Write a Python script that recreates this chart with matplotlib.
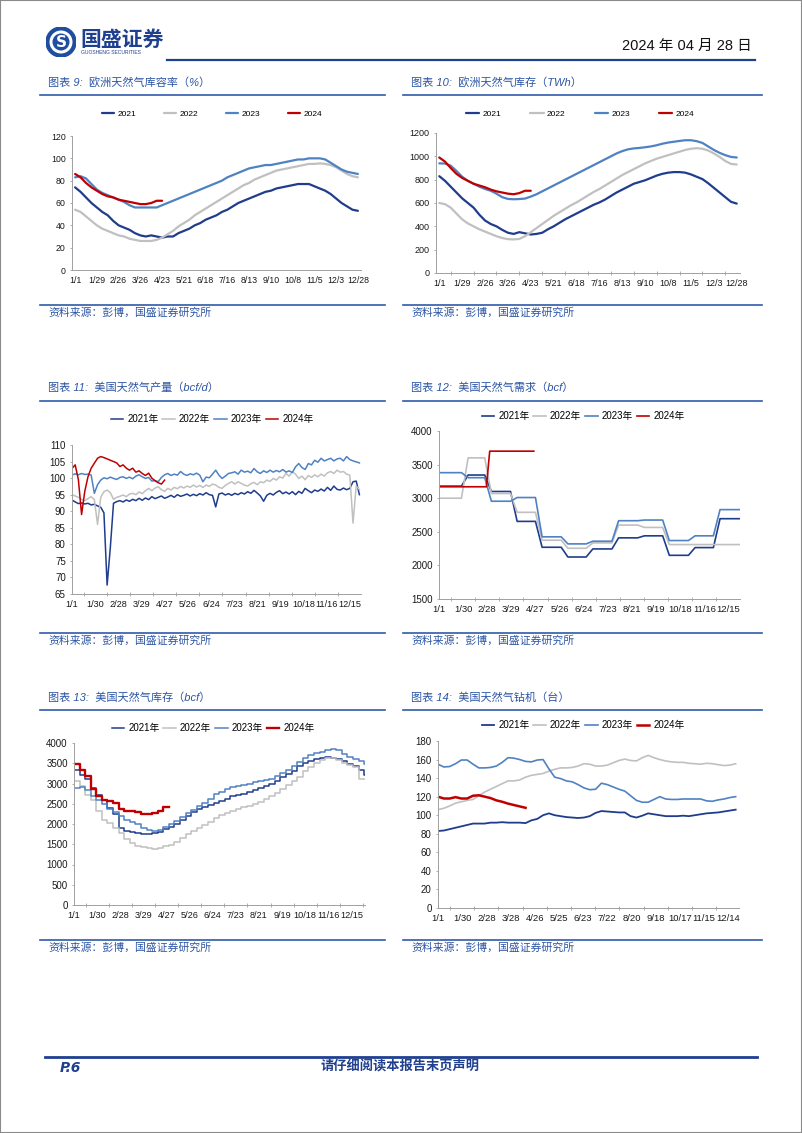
import matplotlib.pyplot as plt
import numpy as np
from matplotlib.patches import Circle, Rectangle
from matplotlib.lines import Line2D

plt.rcParams['font.family'] = ['Liberation Sans', 'Noto Sans CJK SC', 'DejaVu Sans']

W, H = 802, 1133
NAVY = '#1f3d8c'
GRAY = '#c0c0c0'
BLUE = '#4f82c2'
RED = '#c00000'
RULE = '#1f3f8f'
TITLE_C = '#2c55a5'
YEARS = ['2021', '2022', '2023', '2024']
COLORS = [NAVY, GRAY, BLUE, RED]

# ---- chart 9: EU storage fill rate (%), weekly from 1/1
eu_pct_2021 = [74, 70, 65, 60, 56, 52, 49, 44, 40, 38, 36, 33, 31, 30, 31, 30, 29, 30, 30, 33,
               35, 37, 40, 42, 45, 47, 49, 52, 54, 57, 60, 62, 64, 66, 68, 70, 71, 73, 74, 75,
               76, 77, 77, 77, 75, 73, 71, 68, 64, 60, 57, 54, 53]
eu_pct_2022 = [54, 52, 48, 44, 40, 37, 35, 33, 31, 30, 28, 27, 26, 26, 26, 27, 29, 32, 35, 39,
               42, 45, 49, 52, 55, 58, 61, 64, 67, 70, 73, 76, 78, 81, 83, 85, 87, 89, 90, 91,
               92, 93, 94, 95, 95, 95.5, 95, 94, 92, 89, 86, 84, 83]
eu_pct_2023 = [83, 84, 82, 77, 72, 69, 67, 65, 63, 61, 58, 56, 56, 56, 56, 56, 58, 60, 62, 64,
               66, 68, 70, 72, 74, 76, 78, 80, 83, 85, 87, 89, 91, 92, 93, 94, 94, 95, 96, 97,
               98, 99, 99, 100, 100, 100, 99, 96, 93, 90, 88, 87, 86]
eu_pct_2024 = [86, 83, 78, 74, 71, 68, 66, 65, 63, 62, 61, 60, 59, 59, 60, 62, 62]

# ---- chart 10: EU storage (TWh), weekly from 1/1
eu_twh_2021 = [830, 790, 740, 690, 640, 600, 560, 500, 450, 420, 400, 370, 345, 335, 350, 340, 330, 335, 345, 375,
               400, 430, 460, 485, 510, 535, 560, 585, 605, 630, 660, 690, 715, 740, 765, 780, 795, 815, 835, 850,
               860, 865, 865, 860, 845, 825, 805, 770, 730, 690, 650, 610, 595]
eu_twh_2022 = [600, 590, 560, 510, 460, 425, 400, 375, 355, 335, 315, 300, 290, 288, 292, 315, 350, 385, 420, 455,
               490, 520, 550, 580, 605, 635, 665, 695, 720, 750, 780, 810, 840, 865, 890, 915, 940, 960, 980, 995,
               1010, 1025, 1040, 1055, 1065, 1070, 1065, 1050, 1025, 995, 960, 935, 930]
eu_twh_2023 = [940, 938, 920, 875, 825, 790, 765, 740, 720, 705, 680, 650, 635, 632, 634, 638, 655, 675, 700, 725,
               750, 775, 800, 825, 850, 875, 900, 925, 950, 975, 1000, 1025, 1045, 1060, 1068, 1072, 1078, 1085, 1095, 1108,
               1118, 1125, 1132, 1138, 1138, 1130, 1115, 1085, 1055, 1030, 1010, 995, 990]
eu_twh_2024 = [990, 955, 900, 850, 815, 790, 765, 750, 735, 715, 700, 690, 680, 675, 685, 705, 705]
eu_tick_labels = ['1/1', '1/29', '2/26', '3/26', '4/23', '5/21', '6/18', '7/16', '8/13', '9/10',
                  '10/8', '11/5', '12/3', '12/28']

# ---- chart 11: US dry gas production (bcf/d), every 4 days from 1/1
us_prod_2021 = [93.4, 92.8, 92.3, 92.5, 92.2, 92.4, 91.9, 92.1, 91.6, 91.2,
                89.5, 67.7, 79.0, 92.4, 92.9, 93.2, 92.8, 93.4, 93.0, 93.6,
                93.2, 93.9, 93.3, 94.0, 93.5, 94.4, 93.8, 94.2, 94.6, 93.9,
                94.3, 94.8, 94.2, 95.0, 94.5, 94.8, 95.2, 94.6, 95.1, 94.7,
                95.3, 94.9, 95.6, 95.0, 94.8, 91.3, 95.2, 95.5, 94.9, 95.3,
                94.8, 95.4, 95.0, 95.6, 95.2, 95.9, 95.4, 96.3, 95.5, 94.6,
                93.0, 94.8, 95.4, 94.9, 95.7, 96.2, 95.3, 95.8, 95.2, 95.9,
                95.0, 96.0, 95.4, 96.9, 96.2, 95.6, 96.4, 96.0, 96.7, 96.1,
                97.2, 96.3, 97.6, 96.6, 96.4, 97.0, 96.5, 96.9, 98.9, 99.1,
                95.0]
us_prod_2022 = [95.0, 94.6, 94.2, 93.6, 93.2, 93.8, 94.4, 93.5, 86.0, 94.2,
                95.9, 96.4, 95.6, 93.6, 94.2, 94.5, 94.9, 94.4, 95.2, 95.4,
                95.0, 95.8, 95.3, 96.2, 96.9, 96.2, 97.0, 97.4, 96.5, 96.0,
                96.9, 96.4, 97.2, 96.8, 97.5, 97.0, 97.6, 97.2, 97.9, 97.3,
                97.8, 97.2, 97.9, 97.5, 98.2, 97.9, 97.2, 96.9, 97.8, 98.4,
                98.9, 98.2, 98.9, 98.4, 97.9, 97.6, 98.3, 98.7, 98.0, 98.9,
                98.6, 99.4, 99.0, 99.9, 99.4, 100.4, 100.0, 101.4, 100.6, 101.9,
                101.2, 99.9, 100.6, 99.5, 100.8, 100.2, 101.0, 100.4, 101.2, 100.6,
                101.6, 102.0, 101.4, 102.4, 101.8, 102.0, 101.2, 100.9, 86.4, 97.6,
                96.5]
us_prod_2023 = [100.9, 101.3, 101.0, 101.4, 101.1, 101.2, 100.9, 95.4, 98.0, 99.4,
                100.1, 99.8, 100.3, 99.9, 99.6, 100.2, 100.4, 99.9, 100.3, 99.8,
                100.6, 101.0, 100.4, 99.9, 100.2, 99.1, 99.3, 98.9, 100.2, 101.0,
                101.4, 100.8, 101.2, 100.9, 102.0, 101.2, 100.8, 101.3, 101.0, 101.5,
                100.9, 98.9, 100.3, 100.1, 101.2, 102.4, 100.9, 99.9, 100.6, 101.4,
                101.6, 101.9, 101.2, 102.4, 101.8, 102.1, 101.6, 102.9, 101.9, 101.4,
                102.2, 101.7, 102.4, 101.8, 102.3, 101.9, 102.6, 101.8, 102.2, 101.7,
                103.4, 104.4, 103.2, 102.6, 104.4, 104.0, 105.4, 104.8, 106.0, 105.2,
                105.6, 106.0, 105.2, 105.8, 106.0, 105.2, 106.5, 105.6, 105.2, 104.9,
                104.6]
us_prod_2024 = [102.9, 104.0, 99.5, 89.0, 96.0, 100.4, 103.0, 104.5, 106.0, 106.5,
                106.2, 105.8, 105.4, 105.0, 104.6, 103.5, 104.0, 103.0, 102.4, 103.0,
                101.8, 102.2, 101.4, 100.8, 101.5, 100.0, 99.2, 98.6, 98.2, 99.4]
us_tick_labels = ['1/1', '1/30', '2/28', '3/29', '4/27', '5/26', '6/24', '7/23', '8/21', '9/19',
                  '10/18', '11/16', '12/15']

# ---- chart 12: US demand (bcf), monthly
month_start = [0, 31, 59, 90, 120, 151, 181, 212, 243, 273, 304, 334]
us_dem_2021 = [3180, 3345, 3100, 2655, 2270, 2125, 2245, 2410, 2440, 2150, 2265, 2695]
us_dem_2022 = [3000, 3600, 3070, 2790, 2375, 2255, 2335, 2600, 2565, 2310, 2310, 2310]
us_dem_2023 = [3380, 3305, 2955, 3010, 2425, 2320, 2360, 2665, 2675, 2370, 2440, 2830]
us_dem_2024 = [3170, 3170, 3700, 3700]
us_dem_2024_end = 114

# ---- chart 13: US storage (bcf), weekly from 1/1
us_sto_2021 = [3330, 3200, 3100, 2900, 2720, 2600, 2400, 2250, 1900, 1830, 1800, 1780, 1760, 1750, 1770, 1800,
               1880, 1930, 2000, 2100, 2200, 2290, 2380, 2420, 2480, 2520, 2560, 2620, 2680, 2720, 2750, 2790,
               2840, 2880, 2930, 3000, 3070, 3150, 3230, 3320, 3420, 3500, 3560, 3610, 3630, 3650, 3640, 3600,
               3550, 3470, 3420, 3340, 3200]
us_sto_2022 = [3050, 2950, 2720, 2600, 2330, 2110, 2020, 1910, 1780, 1640, 1520, 1450, 1420, 1400, 1380, 1400,
               1450, 1490, 1550, 1650, 1750, 1830, 1890, 1970, 2050, 2150, 2210, 2270, 2330, 2380, 2410, 2440,
               2490, 2550, 2610, 2680, 2760, 2870, 2970, 3060, 3170, 3300, 3400, 3500, 3580, 3630, 3620, 3570,
               3500, 3450, 3400, 3100, 3100]
us_sto_2023 = [2900, 2910, 2850, 2700, 2600, 2500, 2380, 2300, 2200, 2100, 2050, 1990, 1900, 1850, 1830, 1860,
               1930, 2000, 2070, 2170, 2260, 2340, 2440, 2530, 2610, 2730, 2800, 2870, 2920, 2950, 2970, 3000,
               3030, 3060, 3090, 3120, 3180, 3250, 3330, 3420, 3520, 3620, 3700, 3760, 3780, 3830, 3840, 3830,
               3720, 3650, 3610, 3550, 3480]
us_sto_2024 = [3470, 3340, 3180, 2860, 2700, 2590, 2560, 2530, 2380, 2330, 2330, 2300, 2250, 2250, 2280, 2330, 2420]

# ---- chart 14: US gas rigs, weekly from 1/1
rig_2021 = [83, 83.5, 85, 86.5, 88, 89.5, 91, 91, 91, 92, 92, 92.5, 92, 92, 92, 91.5, 94.5, 96, 100, 102,
            100, 99, 98, 97.5, 97, 97.5, 99, 102.5, 104.5, 104, 103.5, 103, 103, 99, 97.5, 99.5, 102, 101, 100, 99,
            99, 99, 99.5, 99, 100, 101, 102, 102.5, 103, 104, 105, 106]
rig_2022 = [106, 107.5, 110, 113, 114.5, 116, 117, 121, 125, 128, 131, 134, 137, 137, 138, 141, 143, 144, 145, 147.5,
            149.5, 151, 151, 151.5, 153, 155.5, 155, 153, 153, 154, 156.5, 159, 160.5, 159, 158.5, 162, 164.5, 162, 160, 158.5,
            157.5, 157, 157, 156, 155.5, 155, 156, 155.5, 154.5, 153.5, 154, 155.5]
rig_2023 = [155, 152, 152.5, 155.5, 159.5, 159.5, 155, 151, 151, 151.5, 153, 157, 162, 161.5, 160, 158, 157.5, 159.5, 160, 150,
            141, 139.5, 137, 136, 133, 129.5, 127.5, 128, 134.5, 133, 130.5, 128, 126, 121, 116, 114, 114, 117, 120, 117.5,
            117, 117, 117.5, 117.5, 117.5, 117.5, 115.5, 115, 116.5, 117.5, 119, 120]
rig_2024 = [120, 118, 118, 119.5, 118, 118, 121, 121.5, 120, 118.5, 116, 114.5, 112.5, 111, 109.5, 108]
rig_tick_labels = ['1/1', '1/30', '2/28', '3/28', '4/26', '5/25', '6/23', '7/22', '8/20', '9/18',
                   '10/17', '11/15', '12/14']


def box(l, t, r, b):
    return [l / W, 1 - b / H, (r - l) / W, (b - t) / H]


def fx(x):
    return x / W


def fy(y):
    return 1 - y / H


def monthly_path(values, end=365, ramp=4):
    xs, ys = [], []
    n = len(values)
    for i, v in enumerate(values):
        start = month_start[i] + ramp if i > 0 else 0
        if i + 1 < n:
            stop = month_start[i + 1] - ramp
        else:
            stop = end
        xs += [start, stop]
        ys += [v, v]
    return xs, ys


def style(ax, xlim, ylim, yticks, xticks, xlabels, size, xsize=None, minor=None):
    ax.set_xlim(*xlim)
    ax.set_ylim(*ylim)
    ax.set_yticks(yticks)
    ax.set_xticks(xticks, xlabels)
    ax.patch.set_alpha(0)
    for s in ['top', 'right']:
        ax.spines[s].set_visible(False)
    for s in ['left', 'bottom']:
        ax.spines[s].set_color('#a0a0a0')
        ax.spines[s].set_linewidth(0.7)
    ax.tick_params(axis='y', labelsize=size, length=1.5, width=0.6, color='#a0a0a0',
                   labelcolor='#1a1a1a', pad=3)
    ax.tick_params(axis='x', labelsize=xsize or size, length=0, labelcolor='#1a1a1a', pad=4)
    if minor is not None:
        ax.set_xticks(minor, minor=True)
        ax.tick_params(axis='x', which='minor', direction='inout', length=3, width=0.6, color='#a0a0a0')


def legend(ax, handles, labels, cx, cy, size, hl, cs):
    ax.legend(handles, labels, loc='center', bbox_to_anchor=(fx(cx), fy(cy)),
              bbox_transform=fig.transFigure, ncol=4, frameon=False, fontsize=size,
              handlelength=hl, handletextpad=0.4, columnspacing=cs, borderaxespad=0)


def panel_frame(x0, x1, ty, ly, sy, title):
    fig.text(fx(x0 + 8), fy(ty), title, fontsize=8, color=TITLE_C, style='italic',
             ha='left', va='center')
    fig.add_artist(Line2D([fx(x0), fx(x1)], [fy(ly), fy(ly)], color='#2f5aa8', lw=1.2))
    fig.add_artist(Line2D([fx(x0), fx(x1)], [fy(sy), fy(sy)], color='#2f5aa8', lw=1.2))
    fig.text(fx(x0 + 8), fy(sy + 8), '资料来源：彭博，国盛证券研究所', fontsize=7.8, color=TITLE_C,
             style='italic', ha='left', va='center')


fig = plt.figure(figsize=(W / 100, H / 100), dpi=100)
fig.patch.set_facecolor('white')

# page border
fig.add_artist(Rectangle((0, 0), 1, 1, transform=fig.transFigure, fill=False,
                         edgecolor='#8a8a8a', lw=1.5))

# header
ax_logo = fig.add_axes(box(46, 27, 76, 57))
ax_logo.set_xlim(-1, 1)
ax_logo.set_ylim(-1, 1)
ax_logo.set_aspect('equal')
ax_logo.axis('off')
ax_logo.add_patch(Circle((0, 0), 1, color='#1f4ea0'))
ax_logo.add_patch(Circle((0, 0), 0.72, color='white'))
ax_logo.add_patch(Circle((0, 0), 0.52, color='#1f4ea0'))
ax_logo.text(0, -0.05, 'S', color='white', fontsize=11, fontweight='bold', ha='center', va='center',
             family='DejaVu Sans')
fig.text(fx(80), fy(40), '国盛证券', fontsize=15, fontweight='bold', color='#1f3f8f', ha='left', va='center')
fig.text(fx(81), fy(53), 'GUOSHENG SECURITIES', fontsize=3.6, color='#1f3f8f', ha='left', va='center')
fig.text(fx(752), fy(46), '2024 年 04 月 28 日', fontsize=10.5, color='#111111', ha='right', va='center')
fig.add_artist(Line2D([fx(167), fx(755)], [fy(60), fy(60)], color=RULE, lw=1.6))

# panel frames
panel_frame(40, 385, 82, 95, 305, '图表 9:  欧洲天然气库容率（%）')
panel_frame(403, 762, 82, 95, 305, '图表 10:  欧洲天然气库存（TWh）')
panel_frame(40, 385, 388, 401, 633, '图表 11:  美国天然气产量（bcf/d）')
panel_frame(403, 762, 388, 401, 633, '图表 12:  美国天然气需求（bcf）')
panel_frame(40, 385, 698, 710, 940, '图表 13:  美国天然气库存（bcf）')
panel_frame(403, 762, 698, 710, 940, '图表 14:  美国天然气钻机（台）')

# ---- chart 9
ax9 = fig.add_axes(box(72, 136, 361, 270))
h = []
for vals, c in zip([eu_pct_2021, eu_pct_2022, eu_pct_2023, eu_pct_2024], COLORS):
    h += ax9.plot(np.arange(len(vals)) * 7, vals, color=c, lw=1.6, solid_capstyle='round')
style(ax9, (-4, 368), (0, 120), range(0, 121, 20), np.arange(14) * 28, eu_tick_labels, 6.3, minor=[196])
legend(ax9, h, YEARS, 212, 114, 6.0, 1.5, 3.3)

# ---- chart 10
ax10 = fig.add_axes(box(436, 133, 740, 273))
h = []
for vals, c in zip([eu_twh_2021, eu_twh_2022, eu_twh_2023, eu_twh_2024], COLORS):
    h += ax10.plot(np.arange(len(vals)) * 7, vals, color=c, lw=1.6, solid_capstyle='round')
style(ax10, (-4, 368), (0, 1200), range(0, 1201, 200), np.arange(14) * 28, eu_tick_labels, 6.5,
      minor=np.arange(0, 365, 14))
legend(ax10, h, YEARS, 580, 114, 6.0, 1.6, 3.5)

# ---- chart 11
ax11 = fig.add_axes(box(72, 445, 361, 594))
h = []
for vals, c in zip([us_prod_2021, us_prod_2022, us_prod_2023, us_prod_2024], COLORS):
    h += ax11.plot(np.arange(len(vals)) * 4, vals, color=c, lw=1.1)
style(ax11, (0, 362), (65, 110), range(65, 111, 5), np.arange(13) * 29, us_tick_labels, 7, xsize=6.6,
      minor=np.arange(0, 362, 14.5))
legend(ax11, h, [y + '年' for y in YEARS], 212, 419, 7, 1.3, 0.4)

# ---- chart 12
ax12 = fig.add_axes(box(439, 431, 740, 599))
h = []
for vals, c, end, rp in zip([us_dem_2021, us_dem_2022, us_dem_2023, us_dem_2024], COLORS,
                            [365, 365, 365, us_dem_2024_end], [4, 4, 4, 2]):
    xs, ys = monthly_path(vals, end, rp)
    h += ax12.plot(xs, ys, color=c, lw=1.2)
style(ax12, (0, 362), (1500, 4000), range(1500, 4001, 500), np.arange(13) * 29, us_tick_labels, 7, xsize=6.8,
      minor=np.arange(0, 362, 14.5))
legend(ax12, h, [y + '年' for y in YEARS], 583, 416, 7, 1.3, 0.4)

# ---- chart 13
ax13 = fig.add_axes(box(74, 743, 365, 905))
h = []
for vals, c, lw in zip([us_sto_2021, us_sto_2022, us_sto_2023, us_sto_2024], COLORS, [1.1, 1.1, 1.1, 1.7]):
    x = np.arange(len(vals) + 1) * 7
    y = list(vals) + [vals[-1]]
    h += ax13.step(x, y, where='post', color=c, lw=lw)
style(ax13, (0, 365), (0, 4000), range(0, 4001, 500), np.arange(13) * 29, us_tick_labels, 7, xsize=6.6,
      minor=np.arange(0, 365, 14.5))
legend(ax13, h, [y + '年' for y in YEARS], 213, 728, 7, 1.3, 0.4)

# ---- chart 14
ax14 = fig.add_axes(box(438, 741, 739, 908))
h = []
for vals, c, lw in zip([rig_2021, rig_2022, rig_2023, rig_2024], COLORS, [1.3, 1.2, 1.2, 1.8]):
    h += ax14.plot(np.arange(len(vals)) * 7, vals, color=c, lw=lw)
style(ax14, (0, 361), (0, 180), range(0, 181, 20), np.arange(13) * 29, rig_tick_labels, 7, xsize=6.8,
      minor=np.arange(0, 361, 14.5))
legend(ax14, h, [y + '年' for y in YEARS], 583, 725, 7, 1.3, 0.4)

# footer
fig.add_artist(Line2D([fx(45), fx(757)], [fy(1057), fy(1057)], color=RULE, lw=2.0))
fig.text(fx(60), fy(1068), 'P.6', fontsize=10, fontweight='bold', style='italic', color=RULE,
         ha='left', va='center', family='DejaVu Sans')
fig.text(fx(400), fy(1067), '请仔细阅读本报告末页声明', fontsize=9.5, fontweight='bold', color=RULE,
         ha='center', va='center')

fig.savefig('out.png', dpi=100)
